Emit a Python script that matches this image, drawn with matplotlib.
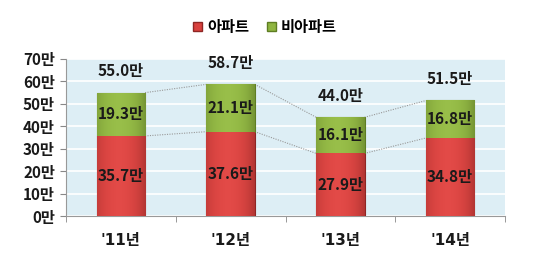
import matplotlib
matplotlib.use("Agg")
import matplotlib.pyplot as plt
import numpy as np
from matplotlib.patches import Patch
from matplotlib.colors import to_rgb

plt.rcParams['font.family'] = ['Noto Sans CJK KR', 'DejaVu Sans']

categories = ["'11년", "'12년", "'13년", "'14년"]
apt = [35.7, 37.6, 27.9, 34.8]
non_apt = [19.3, 21.1, 16.1, 16.8]
totals = [55.0, 58.7, 44.0, 51.5]
yticks = [0, 10, 20, 30, 40, 50, 60, 70]

red = '#D9413E'
green = '#8FB540'
fig = plt.figure(figsize=(5.44, 2.72), dpi=100)
ax = fig.add_axes([66/544, 1-216/272, (505-66)/544, (216-59)/272])
ax.set_facecolor('#DDEEF5')
x = np.arange(len(categories))
w = 0.44
bars_a = ax.bar(x, apt, w, color=red, edgecolor='#8E2624', linewidth=0.8, zorder=3)
bars_n = ax.bar(x, non_apt, w, bottom=apt, color=green, edgecolor='#5E7D23', linewidth=0.8, zorder=3)


def shade(bar, base):
    c = np.array(to_rgb(base))
    t = np.linspace(0, 1, 64)
    d = np.abs(t - 0.45) / 0.55
    prof = 1 - 0.18 * d ** 3
    img = np.clip(c[None, :] * prof[:, None] + 0.04 * (1 - d)[:, None], 0, 1)
    img = img[None, :, :]
    x0, y0 = bar.get_x(), bar.get_y()
    im = ax.imshow(img, extent=[x0, x0 + bar.get_width(), y0, y0 + bar.get_height()],
                   aspect='auto', zorder=3.1, interpolation='bilinear')
    im.set_clip_path(bar)


for b in bars_a:
    shade(b, red)
for b in bars_n:
    shade(b, green)

# series lines
for i in range(len(x) - 1):
    ax.plot([x[i] + w/2, x[i+1] - w/2], [apt[i], apt[i+1]], color='#999999', lw=0.8, ls=(0, (1, 1.2)), zorder=2)
    ax.plot([x[i] + w/2, x[i+1] - w/2], [totals[i], totals[i+1]], color='#999999', lw=0.8, ls=(0, (1, 1.2)), zorder=2)

fs = 11
for i in range(len(x)):
    ax.text(x[i], apt[i]/2, f'{apt[i]:.1f}만', ha='center', va='center', fontsize=fs, fontweight='bold', color='#1a1a1a', zorder=5)
    ax.text(x[i], apt[i] + non_apt[i]/2, f'{non_apt[i]:.1f}만', ha='center', va='center', fontsize=fs, fontweight='bold', color='#1a1a1a', zorder=5)
    ax.text(x[i], totals[i] + 6, f'{totals[i]:.1f}만', ha='center', va='bottom', fontsize=fs, fontweight='bold', color='#1a1a1a', zorder=5)

ax.set_xlim(-0.5, len(x) - 0.5)
ax.set_ylim(0, 70)
ax.set_yticks(yticks)
ax.set_yticklabels([f'{v}만' for v in yticks], fontsize=fs, fontweight='bold', color='#1a1a1a')
ax.yaxis.grid(True, color='white', lw=1.2, zorder=1)
ax.set_axisbelow(True)
ax.set_xticks(x)
ax.set_xticklabels(categories, fontsize=fs, fontweight='bold', color='#1a1a1a',
                   family=['DejaVu Sans', 'Noto Sans CJK KR'])
ax.tick_params(axis='x', length=0, pad=12)
ax.set_xticks(np.arange(-0.5, len(x)), minor=True)
ax.tick_params(axis='x', which='minor', length=4, color='#888888')
ax.tick_params(axis='y', length=4, color='#888888', pad=4)
for s in ['top', 'right']:
    ax.spines[s].set_visible(False)
for s in ['left', 'bottom']:
    ax.spines[s].set_color('#999999')
    ax.spines[s].set_linewidth(0.8)

handles = [Patch(facecolor=red, edgecolor='#8E2624', label='아파트'),
           Patch(facecolor=green, edgecolor='#5E7D23', label='비아파트')]
fig.legend(handles=handles, loc='center', bbox_to_anchor=(265/544, 1-27/272), ncol=2, frameon=False,
           prop={'size': fs, 'weight': 'bold'}, handlelength=0.6, handleheight=0.6, handletextpad=0.3, columnspacing=1.2)

fig.savefig('out.png', dpi=100)
